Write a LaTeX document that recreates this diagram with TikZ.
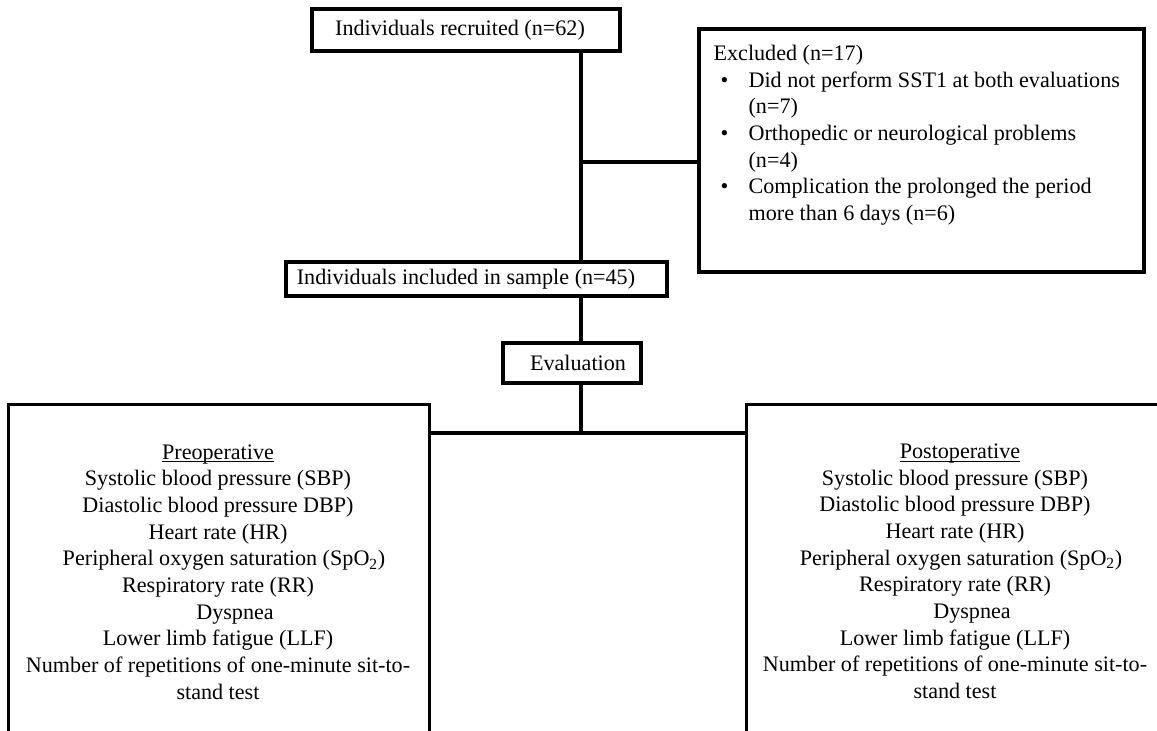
\documentclass[tikz,border=0pt]{standalone}
\usepackage{fontspec}
\setmainfont{Liberation Serif}
\newlength\pxu
\setlength\pxu{0.75pt}
\newcommand\myul[1]{\setbox0\hbox{#1}\rlap{\rule[-2.4pt]{\wd0}{0.7pt}}\box0}
\begin{document}
\begin{tikzpicture}[x=0.75pt,y=-0.75pt,line width=2.4pt,
  box/.style={draw,line width=2.4pt,inner sep=0pt,font=\fontsize{16.6}{20}\selectfont},
  txt/.style={inner sep=0pt,font=\fontsize{16.6}{20}\selectfont},
  conn/.style={line width=2.4pt}]
\useasboundingbox (0,0) rectangle (1157,731);
\clip (0,0) rectangle (1157,731);

\node[box,minimum width=308\pxu,minimum height=42\pxu] (rec) at (466,30) {Individuals recruited (n=62)\hspace*{12\pxu}};
\node[box,minimum width=445\pxu,minimum height=243\pxu] (exc) at (921.5,150.5) {};
\node[txt,anchor=north west,align=left] (exctxt) at (712,40.3) {\strut Excluded (n=17)\\
\hspace*{7\pxu}\makebox[28\pxu][l]{\textbullet}Did not perform SST1 at both evaluations\\
\hspace*{35\pxu}(n=7)\\
\hspace*{7\pxu}\makebox[28\pxu][l]{\textbullet}Orthopedic or neurological problems\\
\hspace*{35\pxu}(n=4)\\
\hspace*{7\pxu}\makebox[28\pxu][l]{\textbullet}Complication the prolonged the period\\
\hspace*{35\pxu}more than 6 days (n=6)};

\node[box,minimum width=381\pxu,minimum height=34\pxu] (inc) at (476.5,279) {Individuals included in sample (n=45)\hspace*{21\pxu}};
\node[box,minimum width=138\pxu,minimum height=40\pxu] (eva) at (572,363) {\hspace*{12\pxu}Evaluation};

\node[inner sep=0pt,minimum width=418\pxu,minimum height=354\pxu] (pre) at (219,583) {};
\draw (pre.south west) -- (pre.north west) -- (pre.north east) -- (pre.south east);
\node[inner sep=0pt,minimum width=427\pxu,minimum height=354\pxu] (post) at (961.5,583) {};
\draw (post.south west) -- (post.north west) -- (post.north east);

\node[txt,anchor=north,align=center] (pretxt) at (218,438.8) {\strut\myul{Preoperative}\\
Systolic blood pressure (SBP)\\
Diastolic blood pressure DBP)\\
Heart rate (HR)\\
\hspace*{12\pxu}Peripheral oxygen saturation (SpO\textsubscript{2})\\
Respiratory rate (RR)\\
\hspace*{34\pxu}Dyspnea\\
Lower limb fatigue (LLF)\\
Number of repetitions of one-minute sit-to-\\
stand test};

\node[txt,anchor=north,align=center] (posttxt) at (955,438.3) {\strut\hspace*{10\pxu}\myul{Postoperative}\\
Systolic blood pressure (SBP)\\
Diastolic blood pressure DBP)\\
Heart rate (HR)\\
\hspace*{12\pxu}Peripheral oxygen saturation (SpO\textsubscript{2})\\
Respiratory rate (RR)\\
\hspace*{34\pxu}Dyspnea\\
Lower limb fatigue (LLF)\\
Number of repetitions of one-minute sit-to-\\
stand test};

\coordinate (sp) at (581,0);
\coordinate (br) at (581,162);
\coordinate (jn) at (581,433);
\draw[conn] (rec.south -| sp) -- (inc.north -| sp);
\draw[conn] (br) -- (br -| exc.west);
\draw[conn] (inc.south -| sp) -- (eva.north -| sp);
\draw[conn] (eva.south -| sp) -- (jn);
\draw[conn] (pre.east |- jn) -- (post.west |- jn);
\end{tikzpicture}
\end{document}
